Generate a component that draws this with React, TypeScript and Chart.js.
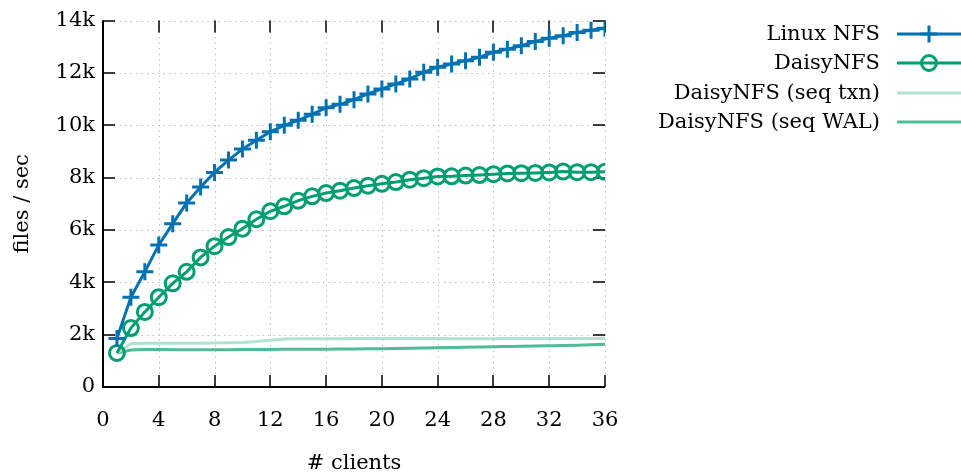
import { useEffect, useRef } from "react";
import { Chart, registerables } from "chart.js";

Chart.register(...registerables);

const FONT = '"DejaVu Serif", serif';

const clients = [1, 2, 3, 4, 5, 6, 7, 8, 9, 10, 11, 12, 13, 14, 15, 16, 17, 18, 19, 20, 21, 22, 23, 24, 25, 26, 27, 28, 29, 30, 31, 32, 33, 34, 35, 36];

const linuxNfs = [1850, 3430, 4400, 5430, 6240, 7030, 7640, 8200, 8670, 9090, 9430, 9750, 10000, 10190, 10420, 10670, 10800, 10980, 11200, 11390, 11580, 11770, 12030, 12220, 12340, 12470, 12600, 12790, 12910, 13040, 13200, 13330, 13420, 13550, 13630, 13710];

const daisyNfs = [1300, 2250, 2870, 3430, 3960, 4400, 4950, 5380, 5730, 6050, 6410, 6715, 6905, 7120, 7285, 7410, 7500, 7600, 7690, 7765, 7830, 7920, 7980, 8045, 8050, 8080, 8100, 8130, 8160, 8170, 8180, 8200, 8230, 8210, 8210, 8220];

const seqTxn = [1300, 1650, 1670, 1670, 1670, 1670, 1670, 1680, 1690, 1700, 1740, 1790, 1830, 1840, 1840, 1845, 1845, 1850, 1850, 1850, 1850, 1850, 1850, 1850, 1845, 1840, 1840, 1845, 1850, 1850, 1850, 1850, 1850, 1850, 1850, 1850];

const seqWal = [1300, 1410, 1430, 1430, 1425, 1420, 1420, 1420, 1425, 1430, 1430, 1435, 1440, 1440, 1445, 1445, 1450, 1455, 1460, 1465, 1470, 1480, 1490, 1500, 1510, 1520, 1530, 1540, 1550, 1560, 1570, 1580, 1590, 1600, 1615, 1630];

const seriesLabels = ["Linux NFS", "DaisyNFS", "DaisyNFS (seq txn)", "DaisyNFS (seq WAL)"];
const xTitle = "# clients";
const yTitle = "files / sec";

const toPoints = (ys: number[]) => ys.map((y, i) => ({ x: clients[i], y }));

const framePlugin = {
  id: "frame",
  beforeDatasetsDraw(chart: any) {
    const { ctx, chartArea: a, scales } = chart;
    const xs = scales.x;
    const ys = scales.y;
    ctx.save();
    ctx.strokeStyle = "#bdbdbd";
    ctx.lineWidth = 1;
    ctx.setLineDash([1.5, 4]);
    xs.ticks.forEach((t: any) => {
      if (t.value === xs.min) return;
      const px = Math.round(xs.getPixelForValue(t.value)) + 0.5;
      ctx.beginPath();
      ctx.moveTo(px, a.top);
      ctx.lineTo(px, a.bottom);
      ctx.stroke();
    });
    ys.ticks.forEach((t: any) => {
      if (t.value === ys.min) return;
      const py = Math.round(ys.getPixelForValue(t.value)) + 0.5;
      ctx.beginPath();
      ctx.moveTo(a.left, py);
      ctx.lineTo(a.right, py);
      ctx.stroke();
    });
    ctx.setLineDash([]);
    ctx.strokeStyle = "#000";
    ctx.lineWidth = 1.5;
    const L = 12;
    xs.ticks.forEach((t: any) => {
      const px = Math.round(xs.getPixelForValue(t.value));
      ctx.beginPath();
      ctx.moveTo(px, a.bottom);
      ctx.lineTo(px, a.bottom - L);
      ctx.moveTo(px, a.top);
      ctx.lineTo(px, a.top + L);
      ctx.stroke();
    });
    ys.ticks.forEach((t: any) => {
      const py = Math.round(ys.getPixelForValue(t.value));
      ctx.beginPath();
      ctx.moveTo(a.left, py);
      ctx.lineTo(a.left + L, py);
      ctx.moveTo(a.right, py);
      ctx.lineTo(a.right - L, py);
      ctx.stroke();
    });
    ctx.lineWidth = 2;
    ctx.beginPath();
    ctx.moveTo(a.left, a.top);
    ctx.lineTo(a.left, a.bottom);
    ctx.lineTo(a.right, a.bottom);
    ctx.stroke();
    ctx.restore();
  },
};

const legendPlugin = {
  id: "gpLegend",
  afterDraw(chart: any) {
    const { ctx } = chart;
    const textRight = 880;
    const lineStart = 897;
    const lineEnd = 961;
    const mid = (lineStart + lineEnd) / 2;
    const rowY = [34, 63, 93, 122];
    ctx.save();
    ctx.font = `21px ${FONT}`;
    ctx.textAlign = "right";
    ctx.textBaseline = "middle";
    chart.data.datasets.forEach((ds: any, i: number) => {
      const y = rowY[i];
      ctx.fillStyle = "#000";
      ctx.fillText(ds.label, textRight, y + 1);
      ctx.strokeStyle = ds.borderColor;
      ctx.lineWidth = ds.borderWidth;
      ctx.beginPath();
      ctx.moveTo(lineStart, y);
      ctx.lineTo(lineEnd, y);
      ctx.stroke();
      if (ds.pointStyle === "cross") {
        ctx.lineWidth = 3;
        ctx.beginPath();
        ctx.moveTo(mid - 8.5, y);
        ctx.lineTo(mid + 8.5, y);
        ctx.moveTo(mid, y - 8.5);
        ctx.lineTo(mid, y + 8.5);
        ctx.stroke();
      } else if (ds.pointStyle === "circle" && ds.pointRadius > 0) {
        ctx.lineWidth = 3;
        ctx.fillStyle = "#fff";
        ctx.beginPath();
        ctx.arc(mid, y, 7.5, 0, Math.PI * 2);
        ctx.fill();
        ctx.stroke();
        ctx.lineWidth = ds.borderWidth;
        ctx.beginPath();
        ctx.moveTo(mid - 7.5, y);
        ctx.lineTo(mid + 7.5, y);
        ctx.stroke();
      }
    });
    ctx.restore();
  },
};

export default function App() {
  const ref = useRef<HTMLCanvasElement>(null);

  useEffect(() => {
    document.body.style.margin = "0";
    document.body.style.overflow = "hidden";
    const font = { family: FONT, size: 21 };
    const chart = new Chart(ref.current as HTMLCanvasElement, {
      type: "line",
      data: {
        datasets: [
          {
            label: seriesLabels[0],
            data: toPoints(linuxNfs),
            borderColor: "#0072b2",
            backgroundColor: "#0072b2",
            borderWidth: 3,
            pointStyle: "cross",
            pointRadius: 8.5,
            pointBorderWidth: 3,
            pointHoverRadius: 8.5,
          },
          {
            label: seriesLabels[1],
            data: toPoints(daisyNfs),
            borderColor: "#009e73",
            backgroundColor: "#009e73",
            borderWidth: 3,
            pointStyle: "circle",
            pointRadius: 7.5,
            pointBorderWidth: 3,
            pointBackgroundColor: "rgba(0,0,0,0)",
            pointHoverRadius: 7.5,
          },
          {
            label: seriesLabels[2],
            data: toPoints(seqTxn),
            borderColor: "#b2e2d1",
            backgroundColor: "#b2e2d1",
            borderWidth: 3,
            pointStyle: "line",
            pointRadius: 0,
          },
          {
            label: seriesLabels[3],
            data: toPoints(seqWal),
            borderColor: "#4fbb97",
            backgroundColor: "#4fbb97",
            borderWidth: 3,
            pointStyle: "line",
            pointRadius: 0,
          },
        ],
      } as any,
      options: {
        responsive: false,
        animation: false,
        events: [],
        layout: { padding: { left: 0, right: 356, top: 18, bottom: 0 } },
        plugins: {
          legend: { display: false },
          tooltip: { enabled: false },
        },
        scales: {
          x: {
            type: "linear",
            min: 0,
            max: 36,
            grid: { display: false, drawTicks: false },
            border: { display: false },
            ticks: { stepSize: 4, font, color: "#000", padding: 21, maxRotation: 0 },
            title: { display: true, text: xTitle, font, color: "#000", padding: { top: 0, bottom: 0 } },
            afterFit: (s: any) => {
              s.height = 89;
            },
          },
          y: {
            type: "linear",
            min: 0,
            max: 14000,
            grid: { display: false, drawTicks: false },
            border: { display: false },
            ticks: {
              stepSize: 2000,
              font,
              color: "#000",
              padding: 8,
              callback: (v: any) => (v === 0 ? "0" : `${v / 1000}k`),
            },
            title: { display: true, text: yTitle, font, color: "#000", padding: { top: 10, bottom: 0 } },
            afterFit: (s: any) => {
              s.width = 103;
            },
          },
        },
      } as any,
      plugins: [framePlugin, legendPlugin],
    });
    return () => chart.destroy();
  }, []);

  return (
    <canvas
      ref={ref}
      width={961}
      height={476}
      style={{ display: "block", width: 961, height: 476 }}
    />
  );
}
